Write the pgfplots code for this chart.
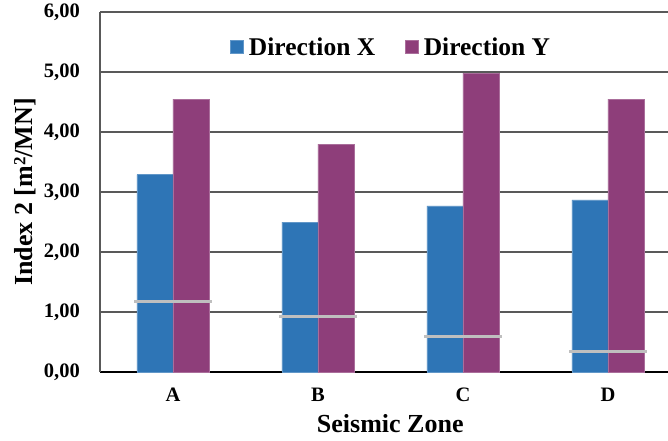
\documentclass[border=0pt]{standalone}
\usepackage{fontspec}
\setmainfont{Liberation Serif}
\usepackage{pgfplots}
\pgfplotsset{compat=1.18}

\definecolor{dirx}{RGB}{46,117,182}
\definecolor{diry}{RGB}{142,62,122}
\definecolor{gridc}{RGB}{89,89,89}
\definecolor{limc}{RGB}{191,191,191}

\newcommand\fs[1]{\fontsize{#1}{#1}\selectfont\bfseries}

\begin{document}
\begin{tikzpicture}[x=1pt,y=1pt]
\useasboundingbox (0,0) rectangle (668,440);
\begin{axis}[
  at={(100pt,68pt)}, anchor=south west,
  scale only axis, width=568pt, height=360pt,
  xmin=-0.503, xmax=3.414, ymin=0, ymax=6,
  ytick={0,1,...,6},
  xtick={0,1,2,3}, xticklabels={A,B,C,D},
  major tick length=0pt,
  ymajorgrids, grid style={gridc, line width=1.2pt},
  axis x line*=bottom, axis y line*=left,
  x axis line style={-, black, line width=1.5pt},
  y axis line style={-, gridc, line width=1.2pt},
  /pgf/number format/.cd, fixed, fixed zerofill, precision=2, use comma, assume math mode=true,
  /pgfplots/.cd,
  yticklabel style={font=\fs{20.5}, inner sep=0pt, anchor=east, xshift=-20pt},
  xticklabel style={font=\fs{20.5}, inner sep=0pt, anchor=north, yshift=-16pt},
  ylabel={Index 2 [m{\fontsize{17}{17}\selectfont\raisebox{7pt}{2}}/MN]},
  ylabel style={font=\fs{26}, at={(axis description cs:-0.132,0.5)}, anchor=center},
  xlabel={Seismic Zone},
  xlabel style={font=\fs{26}, at={(axis description cs:0.511,-0.1667)}, anchor=base},
  legend columns=2,
  legend style={at={(axis description cs:0.511,0.903)}, anchor=center,
    draw=none, fill=white, font=\fs{25.5},
    nodes={inner sep=0pt}, cells={anchor=west},
    /tikz/every even column/.append style={column sep=30pt}},
  legend image code/.code={\fill[#1] (0pt,-6.5pt) rectangle (13pt,6.5pt); \path (18pt,0pt);},
]
\addplot[ybar, bar width=36pt, bar shift=-18pt, fill=dirx, draw=dirx!75!white, line width=0.5pt]
  coordinates {(0,3.29) (1,2.50) (2,2.77) (3,2.87)};
\addlegendentry{Direction X}
\addplot[ybar, bar width=36pt, bar shift=18pt, fill=diry, draw=diry!75!white, line width=0.5pt]
  coordinates {(0,4.55) (1,3.80) (2,4.98) (3,4.55)};
\addlegendentry{Direction Y}
% limit values per seismic zone
\addplot[forget plot, only marks, mark=-, mark size=39pt,
  mark options={draw=limc, line width=3pt}]
  coordinates {(0,1.17) (1,0.92) (2,0.60) (3,0.35)};
\end{axis}
\end{tikzpicture}
\end{document}
